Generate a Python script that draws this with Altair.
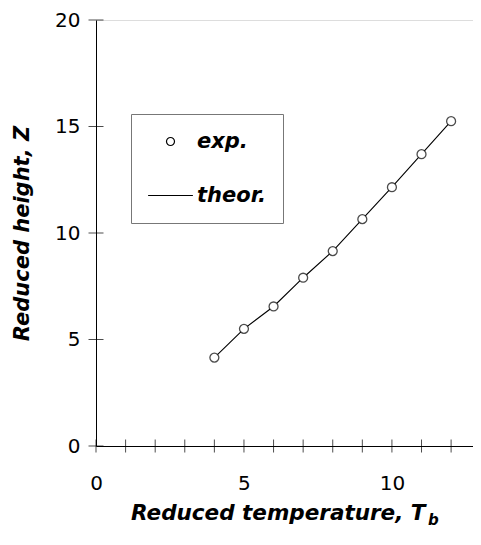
import altair as alt
import pandas as pd

# experimental points
exp_x = [4, 5, 6, 7, 8, 9, 10, 11, 12]
exp_y = [4.15, 5.5, 6.55, 7.9, 9.15, 10.65, 12.15, 13.7, 15.25]
# theoretical line
theor_x = [4, 5, 6, 7, 8, 9, 10, 11, 12]
theor_y = [4.15, 5.5, 6.55, 7.9, 9.15, 10.65, 12.15, 13.7, 15.25]

series_names = ["exp.", "theor."]
x_tick_values = list(range(0, 13))
y_tick_values = [0, 5, 10, 15, 20]
x_label_values = [0, 5, 10]
x_domain = [0, 12.74]   # axis runs off the right edge of the figure
y_domain = [0, 20]

FONT = "DejaVu Sans"

exp_df = pd.DataFrame({"x": exp_x, "y": exp_y, "series": ["exp."] * len(exp_x)})
theor_df = pd.DataFrame({"x": theor_x, "y": theor_y})
xt_df = pd.DataFrame({"x": x_tick_values, "y": [0] * len(x_tick_values)})
yt_df = pd.DataFrame({"x": [0] * len(y_tick_values), "y": y_tick_values})

xscale = alt.Scale(domain=x_domain, nice=False, zero=False)
yscale = alt.Scale(domain=y_domain, nice=False)

xaxis = alt.Axis(
    values=x_label_values, ticks=False, tickSize=0, grid=False, labelFlush=False,
    domainColor="black", domainWidth=1,
    labelFont=FONT, labelFontSize=20, labelColor="black", labelPadding=27,
    title="Reduced temperature, T", titleFont=FONT, titleFontSize=21.5,
    titleFontWeight="bold", titleFontStyle="italic", titleColor="black",
    titleAlign="right", titleBaseline="alphabetic", titleX=329, titleY=73,
)
yaxis = alt.Axis(
    values=y_tick_values, ticks=False, tickSize=0, grid=False, labelFlush=False,
    domainColor="black", domainWidth=1,
    labelFont=FONT, labelFontSize=20, labelColor="black", labelPadding=16,
    title="Reduced height, Z", titleFont=FONT, titleFontSize=21,
    titleFontWeight="bold", titleFontStyle="italic", titleColor="black",
    titleAngle=-90, titleAlign="center", titleBaseline="middle",
    titleX=-74, titleY=213,
)

legend = alt.Legend(
    title=None, orient="none", legendX=35, legendY=94,
    labelFont=FONT, labelFontSize=21, labelFontWeight="bold",
    labelFontStyle="italic", labelColor="black", labelOffset=16,
    strokeColor="#777777", fillColor="white", padding=17,
    rowPadding=32, symbolSize=64, symbolStrokeWidth=1.2, symbolOpacity=1,
    symbolOffset=12,
)

line = alt.Chart(theor_df).mark_line(color="black", strokeWidth=1.1).encode(
    x=alt.X("x:Q", scale=xscale, axis=xaxis),
    y=alt.Y("y:Q", scale=yscale, axis=yaxis),
)

# white interiors of the open circles
point_fill = alt.Chart(exp_df).mark_point(
    filled=True, color="white", opacity=1, size=80
).encode(
    x=alt.X("x:Q", scale=xscale),
    y=alt.Y("y:Q", scale=yscale),
)

points = alt.Chart(exp_df).mark_point(
    filled=False, color="black", strokeWidth=1.3, size=80
).encode(
    x=alt.X("x:Q", scale=xscale),
    y=alt.Y("y:Q", scale=yscale),
    shape=alt.Shape("series:N", scale=alt.Scale(domain=series_names, range=["circle", "M-5.6,0L5.6,0"]), legend=legend),
)

xticks = alt.Chart(xt_df).mark_tick(orient="vertical", size=13, thickness=1, color="black").encode(
    x=alt.X("x:Q", scale=xscale), y=alt.Y("y:Q", scale=yscale)
)
yticks = alt.Chart(yt_df).mark_tick(orient="horizontal", size=15, thickness=1, color="black").encode(
    x=alt.X("x:Q", scale=xscale), y=alt.Y("y:Q", scale=yscale)
)

sub_b = alt.Chart(pd.DataFrame({"t": ["b"]})).mark_text(
    font=FONT, fontSize=15, fontWeight="bold", fontStyle="italic",
    align="left", baseline="alphabetic", color="black"
).encode(text="t:N", x=alt.value(332), y=alt.value(505))

chart = alt.layer(line, xticks, yticks, point_fill, points, sub_b).properties(
    width=377, height=426,
    padding={"left": 88, "top": 12, "right": 0, "bottom": 85},
    autosize="none",
).configure_view(strokeWidth=0).configure(background="white")

chart.save("out.html", embed_options={"renderer": "svg", "actions": False})
